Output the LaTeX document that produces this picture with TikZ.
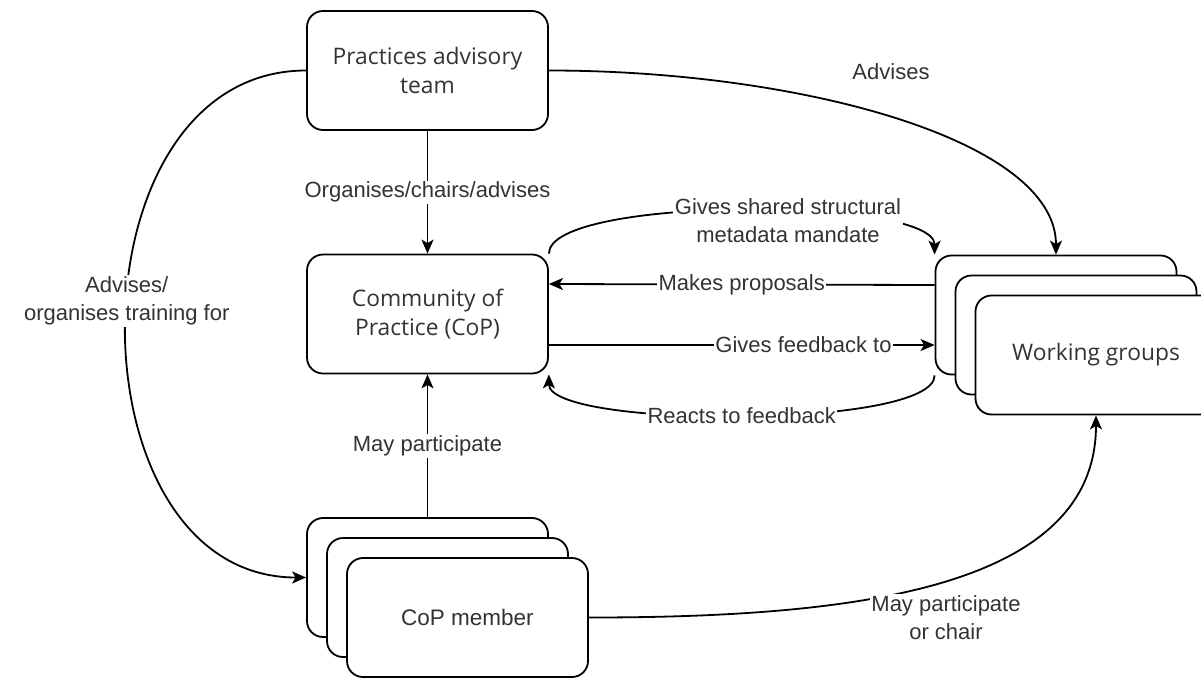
\documentclass[tikz,border=0pt]{standalone}
\usepackage{fontspec}
\setmainfont{Liberation Sans}
\newfontfamily\boxfont{Open Sans}
\usetikzlibrary{arrows.meta,calc}

\begin{document}
\begin{tikzpicture}[x=1pt, y=-1pt,
    box/.style={draw, line width=1.8pt, rounded corners=16pt, fill=white,
        minimum width=241pt, minimum height=119pt, align=center,
        text=black!80, font=\boxfont\fontsize{22.8}{29}\selectfont},
    memberbox/.style={box, font=\fontsize{22.5}{29}\selectfont},
    lbl/.style={fill=white, inner sep=1.5pt, align=center, text=black!80,
        font=\fontsize{22}{28}\selectfont},
    arr/.style={line width=1.8pt, -{Stealth[length=14pt,width=12pt,inset=3.5pt]}}]
    \useasboundingbox (0,0) rectangle (1201,678);

    % Advisory team and community
    \node[box] (pat) at (427.5,70.5) {Practices advisory\\team};
    \node[box] (cop) at (427.5,314) {Community of\\Practice (CoP)};

    % Working groups (stacked)
    \node[box] (wg1) at (1056,315) {};
    \node[box] (wg2) at (1076,335) {};
    \node[box] (wg3) at (1096,355) {Working groups};

    % CoP members (stacked)
    \node[memberbox] (mem1) at (427.5,577.5) {};
    \node[memberbox] (mem2) at (447.5,597.5) {};
    \node[memberbox] (mem3) at (467.5,617.5) {CoP member};

    % From the advisory team
    \draw[arr] (pat.south) -- (cop.north) node[lbl, midway] (lorg) {Organises/chairs/advises};
    \draw[arr] (pat.east) .. controls +(250,0) and +(0,-115) .. (wg1.north);
    \node[lbl] (ladv) at (891,72) {Advises};
    \draw[arr] (pat.west) .. controls +(-240,0) and +(-240,0) .. (mem1.west)
        node[lbl, pos=0.47] (ltrain) {Advises/\\organises training for};

    % Between CoP and working groups
    \draw[arr] (cop.north east) .. controls +(0,-58) and +(0,-58) .. (wg1.north west);
    \node[lbl] (lmand) at (788,221) {Gives shared structural\\metadata mandate};
    \draw[arr] ($(wg1.west)+(0,-30)$) -- ($(cop.east)+(0,-30)$)
        node[lbl, pos=0.5] (lprop) {Makes proposals};
    \draw[arr] ($(cop.east)+(0,31)$) -- ($(wg1.west)+(0,30)$)
        node[lbl, pos=0.66] (lfeed) {Gives feedback to};
    \draw[arr] (wg1.south west) .. controls +(0,54) and +(0,54) .. (cop.south east)
        node[lbl, pos=0.5] (lreact) {Reacts to feedback};

    % From CoP members
    \draw[arr] (mem1.north) -- (cop.south) node[lbl, midway] (lpart) {May participate};
    \draw[arr] (mem3.east) .. controls +(260,0) and +(0,175) .. (wg3.south);
    \node[lbl] (lchair) at (946,618) {May participate\\or chair};
\end{tikzpicture}
\end{document}
